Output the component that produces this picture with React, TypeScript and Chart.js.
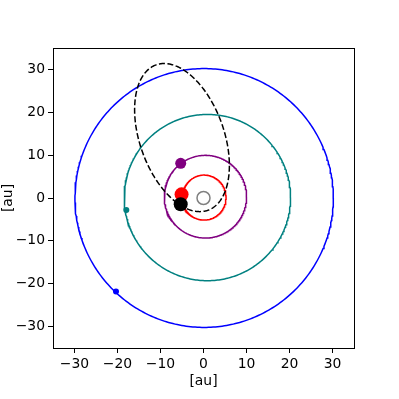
import React, { useEffect, useRef } from "react";
import { Chart, registerables } from "chart.js";

Chart.register(...registerables);

// axis
const axisMin = -35;
const axisMax = 35;
const xTickValues = [-30, -20, -10, 0, 10, 20, 30];
const yTickValues = [-30, -20, -10, 0, 10, 20, 30];
const xTitle = "[au]";
const yTitle = "[au]";

// planetary orbits (ellipse parameters, au)
const orbitNames = ["Jupiter", "Saturn", "Uranus", "Neptune"];
const orbitColors = ["red", "purple", "teal", "blue"];
const orbitCenterX = [0.15, 0.45, 0.9, 0.15];
const orbitCenterY = [0.1, 0.3, 0.1, 0.0];
const orbitRadiusX = [5.1, 9.57, 19.35, 30.05];
const orbitRadiusY = [5.25, 9.65, 19.4, 30.2];

// comet orbit (ellipse parameters, au / degrees)
const cometCenter = [-5.0, 14.1];
const cometSemiMajor = 18.0;
const cometSemiMinor = 9.8;
const cometAngleDeg = 109.5;

// current positions (au)
const bodyNames = ["comet", "Jupiter", "Saturn", "Uranus", "Neptune", "Sun"];
const bodyX = [-5.3, -5.1, -5.3, -17.95, -20.35, 0];
const bodyY = [-1.45, 0.85, 8.1, -2.8, -21.8, 0];
const bodyColors = ["black", "red", "purple", "teal", "blue", "grey"];

const SAMPLES = 361;

function ellipse(cx: number, cy: number, rx: number, ry: number, angDeg: number) {
  const a = (angDeg * Math.PI) / 180;
  const ca = Math.cos(a);
  const sa = Math.sin(a);
  const pts: { x: number; y: number }[] = [];
  for (let i = 0; i < SAMPLES; i++) {
    const t = (2 * Math.PI * i) / (SAMPLES - 1);
    const u = rx * Math.cos(t);
    const v = ry * Math.sin(t);
    pts.push({ x: cx + u * ca - v * sa, y: cy + u * sa + v * ca });
  }
  return pts;
}

const FONT = "'DejaVu Sans', sans-serif";
const fmt = (v: number) => (v < 0 ? "\u2212" + Math.abs(v) : String(v));

const framePlugin = {
  id: "frame",
  afterDatasetsDraw(chart: any) {
    const { ctx, chartArea } = chart;
    ctx.save();
    ctx.strokeStyle = "#000";
    ctx.lineWidth = 1;
    ctx.strokeRect(
      Math.round(chartArea.left) + 0.5,
      Math.round(chartArea.top) + 0.5,
      Math.round(chartArea.right - chartArea.left),
      Math.round(chartArea.bottom - chartArea.top)
    );
    ctx.restore();
  },
};

export default function App() {
  const ref = useRef<HTMLCanvasElement | null>(null);

  useEffect(() => {
    if (!ref.current) return;

    const markerSizes = [7, 7, 5.5, 3, 3, 6.5];
    const bodyDatasets = bodyNames.map((name, i) => ({
      label: name,
      data: [{ x: bodyX[i], y: bodyY[i] }],
      showLine: false,
      pointRadius: markerSizes[i],
      pointHoverRadius: markerSizes[i],
      pointBackgroundColor: name === "Sun" ? "rgba(0,0,0,0)" : bodyColors[i],
      pointBorderColor: bodyColors[i],
      pointBorderWidth: name === "Sun" ? 1.5 : 0,
    }));

    const cometDataset = {
      label: "comet orbit",
      data: ellipse(cometCenter[0], cometCenter[1], cometSemiMajor, cometSemiMinor, cometAngleDeg),
      showLine: true,
      borderColor: "black",
      borderWidth: 1.5,
      borderDash: [6, 2.5],
      pointRadius: 0,
      tension: 0,
    };

    const orbitDatasets = orbitNames.map((name, i) => ({
      label: name + " orbit",
      data: ellipse(orbitCenterX[i], orbitCenterY[i], orbitRadiusX[i], orbitRadiusY[i], 0),
      showLine: true,
      borderColor: orbitColors[i],
      borderWidth: 1.5,
      pointRadius: 0,
      tension: 0,
    }));

    // first dataset is drawn on top
    const datasets = [...bodyDatasets, cometDataset, ...orbitDatasets.reverse()];

    const makeAxis = (ticks: number[], title: string, isX: boolean) => ({
      type: "linear" as const,
      min: axisMin,
      max: axisMax,
      afterBuildTicks: (scale: any) => {
        scale.ticks = ticks.map((v) => ({ value: v }));
      },
      afterFit: (scale: any) => {
        if (isX) scale.height = 51;
        else scale.width = 53;
      },
      grid: {
        drawOnChartArea: false,
        drawTicks: true,
        tickLength: 5,
        tickColor: "#000",
        tickWidth: 1,
      },
      border: { display: true, color: "#000", width: 1 },
      ticks: {
        color: "#000",
        padding: 3,
        font: { family: FONT, size: 13.9 },
        callback: (v: any) => fmt(Number(v)),
        maxRotation: 0,
        autoSkip: false,
      },
      title: {
        display: true,
        text: title,
        color: "#000",
        font: { family: FONT, size: 13.9 },
        padding: isX ? { top: 0, bottom: 9 } : { top: 0, bottom: 0 },
      },
    });

    const chart = new Chart(ref.current, {
      type: "scatter",
      data: { datasets: datasets as any },
      options: {
        animation: false,
        responsive: false,
        devicePixelRatio: 1,
        layout: { padding: { top: 48, right: 45, left: 0, bottom: 0 } },
        plugins: {
          legend: { display: false },
          tooltip: { enabled: false },
        },
        scales: {
          x: makeAxis(xTickValues, xTitle, true),
          y: makeAxis(yTickValues, yTitle, false),
        },
      } as any,
      plugins: [framePlugin],
    });

    return () => chart.destroy();
  }, []);

  return (
    <div style={{ position: "fixed", left: 0, top: 0, width: 399, height: 399, background: "#fff" }}>
      <canvas ref={ref} width={399} height={399} />
    </div>
  );
}
